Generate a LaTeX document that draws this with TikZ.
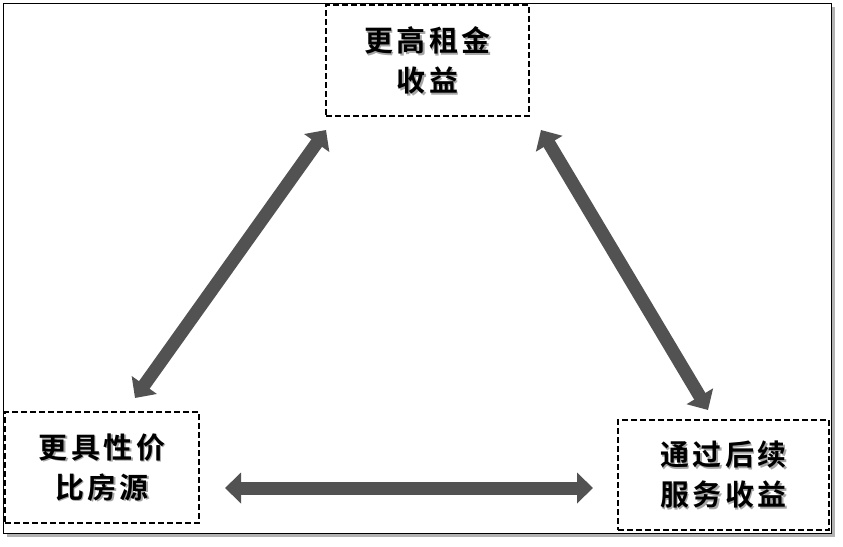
\documentclass[tikz,border=0pt]{standalone}
\usepackage{fontspec}
\newfontfamily\cjk{Noto Sans CJK SC}[BoldFont={Noto Sans CJK SC Bold},LetterSpace=12]
\usetikzlibrary{arrows.meta}
\begin{document}
\begin{tikzpicture}[x=1pt,y=-1pt,
  box/.style={draw,dash pattern=on 6pt off 3pt,line width=2pt,inner sep=0pt},
  lbl/.style={font=\cjk\bfseries\fontsize{29}{40}\selectfont,align=center},
  arr/.style={draw=black!68,line width=13pt,{Triangle[length=16pt,width=30pt]}-{Triangle[length=16pt,width=30pt]}}]
\useasboundingbox (0,0) rectangle (843,546);
\fill[black!30] (7,7) rectangle (835,537);
\draw[fill=white,line width=1pt] (3,3) rectangle (831,533);
\node[box,minimum width=203pt,minimum height=111pt] (t) at (427.5,60.5) {};
\node[box,minimum width=194pt,minimum height=111pt] (l) at (102,467.5) {};
\node[box,minimum width=211pt,minimum height=110pt] (r) at (723.5,475) {};
\foreach \n/\t in {t/{更高租金\\收益},l/{更具性价\\比房源},r/{通过后续\\服务收益}}{
  \node[lbl,text=black!35] at ([shift={(1.5,1.5)}]\n.center) {\t};
  \node[lbl] at (\n.center) {\t};
}
\coordinate (a1) at (135,398); \coordinate (a2) at (326,130);
\coordinate (b1) at (541,130); \coordinate (b2) at (708,410);
\coordinate (c1) at (225,488); \coordinate (c2) at (593,488);
\draw[arr] (a1) -- (a2);
\draw[arr] (b1) -- (b2);
\draw[arr] (c1) -- (c2);
\end{tikzpicture}
\end{document}
